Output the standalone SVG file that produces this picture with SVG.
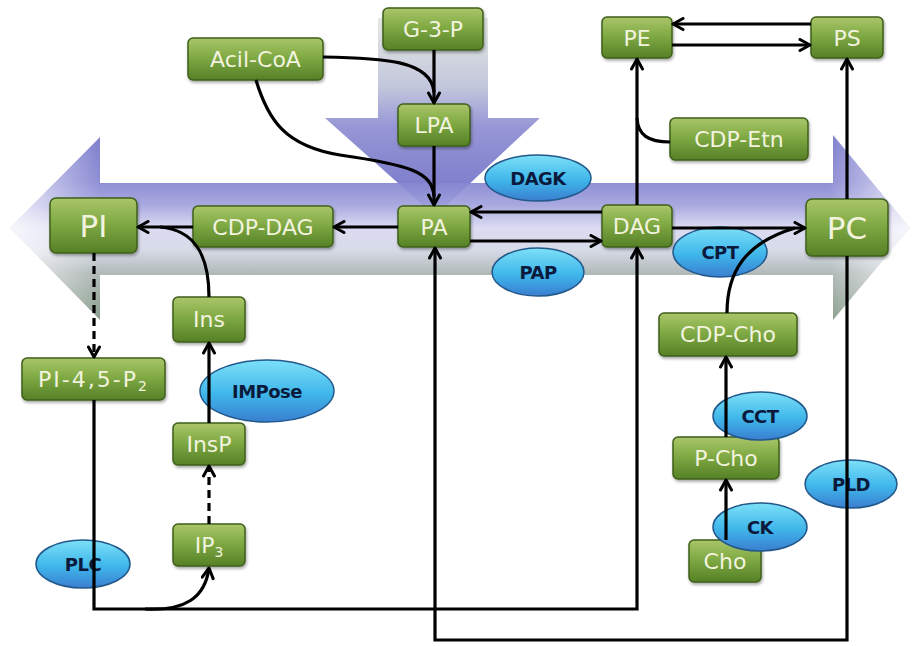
<svg xmlns="http://www.w3.org/2000/svg" width="913" height="646" viewBox="0 0 913 646">
  <defs>
    <linearGradient id="bandH" x1="0" y1="135" x2="0" y2="320" gradientUnits="userSpaceOnUse">
      <stop offset="0" stop-color="#7272c8"/>
      <stop offset="0.26" stop-color="#8686d2"/>
      <stop offset="0.38" stop-color="#a2a2de"/>
      <stop offset="0.5" stop-color="#d8d8f1"/>
      <stop offset="0.62" stop-color="#d4d8e6"/>
      <stop offset="0.75" stop-color="#a9b3b1"/>
      <stop offset="1" stop-color="#7f9681"/>
    </linearGradient>
    <linearGradient id="tipFade" x1="10" y1="0" x2="910" y2="0" gradientUnits="userSpaceOnUse">
      <stop offset="0" stop-color="#ffffff" stop-opacity="0.75"/>
      <stop offset="0.1" stop-color="#ffffff" stop-opacity="0"/>
      <stop offset="0.91" stop-color="#ffffff" stop-opacity="0"/>
      <stop offset="1" stop-color="#ffffff" stop-opacity="0.75"/>
    </linearGradient>
    <linearGradient id="bandV" x1="0" y1="18" x2="0" y2="216" gradientUnits="userSpaceOnUse">
      <stop offset="0" stop-color="#e6eae4"/>
      <stop offset="0.35" stop-color="#c2c6dc"/>
      <stop offset="0.55" stop-color="#9696d6"/>
      <stop offset="1" stop-color="#7272c6"/>
    </linearGradient>
    <linearGradient id="nodeFill" x1="0" y1="0" x2="0" y2="1">
      <stop offset="0" stop-color="#aac66a"/>
      <stop offset="0.45" stop-color="#80aa44"/>
      <stop offset="1" stop-color="#558026"/>
    </linearGradient>
    <linearGradient id="enzFill" x1="0" y1="0" x2="0" y2="1">
      <stop offset="0" stop-color="#7ce0f8"/>
      <stop offset="0.55" stop-color="#3fb6ea"/>
      <stop offset="1" stop-color="#3a7ed0"/>
    </linearGradient>
    <filter id="shadow" x="-10%" y="-10%" width="130%" height="140%">
      <feDropShadow dx="1" dy="2" stdDeviation="1.5" flood-color="#000" flood-opacity="0.35"/>
    </filter>
    <marker id="arr" viewBox="0 0 14 14" refX="12" refY="7" markerWidth="14" markerHeight="14" markerUnits="userSpaceOnUse" orient="auto">
      <path d="M2,1.5 L12,7 L2,12.5" fill="none" stroke="#000" stroke-width="3" stroke-linecap="round" stroke-linejoin="round"/>
    </marker>
    <style>
      .node rect { fill: url(#nodeFill); stroke: #3f5f1a; stroke-width: 1.5; filter: url(#shadow); }
      .node text { font-family: "DejaVu Sans", "Liberation Sans", sans-serif; font-size: 22px; fill: #f2f3df; text-anchor: middle; }
      .node text.big { font-size: 31px; }
      .node text.wide { letter-spacing: 2px; }
      .enz ellipse { fill: url(#enzFill); stroke: #22588a; stroke-width: 1.5; }
      .enz text { font-family: "DejaVu Sans", "Liberation Sans", sans-serif; font-size: 18px; font-weight: bold; letter-spacing: -0.5px; fill: #0b1a3c; text-anchor: middle; }
      .conn path { fill: none; stroke: #000; stroke-width: 3.2; }
      .conn path.dash { stroke-dasharray: 8 5; }
      .conn path.to { marker-end: url(#arr); }
    </style>
  </defs>

  <rect width="913" height="646" fill="#ffffff"/>

  <!-- broad background flow arrows -->
  <g id="flow-vertical">
    <path d="M378,18 L488,18 L488,118 L540,118 L435,216 L325,118 L378,118 Z" fill="url(#bandV)"/>
  </g>
  <g id="flow-horizontal">
    <path d="M10,228 L100,137 L100,183 L833,183 L833,135 L910,228 L833,320 L833,275 L100,275 L100,320 Z" fill="url(#bandH)" opacity="0.92"/>
    <path d="M10,228 L100,137 L100,183 L833,183 L833,135 L910,228 L833,320 L833,275 L100,275 L100,320 Z" fill="url(#tipFade)"/>
  </g>

  <!-- metabolites -->
  <g id="g3p" class="node"><rect x="383" y="8" width="100" height="42" rx="5"/><text x="433" y="37">G-3-P</text></g>
  <g id="acilcoa" class="node"><rect x="188" y="38" width="135" height="42" rx="5"/><text x="255.5" y="67">Acil-CoA</text></g>
  <g id="lpa" class="node"><rect x="398" y="104" width="72" height="42" rx="5"/><text x="434" y="133">LPA</text></g>
  <g id="pa" class="node"><rect x="398" y="206" width="72" height="41" rx="5"/><text x="434" y="234.5">PA</text></g>
  <g id="cdpdag" class="node"><rect x="193" y="206" width="140" height="41" rx="5"/><text x="263" y="234.5">CDP-DAG</text></g>
  <g id="pi" class="node"><rect x="50" y="198" width="87" height="55" rx="6"/><text class="big" x="93.5" y="236.5">PI</text></g>
  <g id="dag" class="node"><rect x="602" y="205" width="70" height="42" rx="5"/><text x="637" y="234">DAG</text></g>
  <g id="pc" class="node"><rect x="806" y="199" width="82" height="57" rx="6"/><text class="big" x="847" y="238.5">PC</text></g>
  <g id="pe" class="node"><rect x="602" y="17" width="70" height="41" rx="5"/><text x="637" y="45.5">PE</text></g>
  <g id="ps" class="node"><rect x="811" y="17" width="72" height="41" rx="5"/><text x="847" y="45.5">PS</text></g>
  <g id="cdpetn" class="node"><rect x="670" y="118" width="138" height="42" rx="5"/><text x="739" y="147">CDP-Etn</text></g>
  <g id="cdpcho" class="node"><rect x="659" y="313" width="138" height="43" rx="5"/><text x="728" y="342">CDP-Cho</text></g>
  <g id="pcho" class="node"><rect x="673" y="437" width="106" height="42" rx="5"/><text x="726" y="466">P-Cho</text></g>
  <g id="cho" class="node"><rect x="689" y="540" width="72" height="42" rx="5"/><text x="725" y="569">Cho</text></g>
  <g id="ins" class="node"><rect x="173" y="297" width="72" height="45" rx="5"/><text x="209" y="327">Ins</text></g>
  <g id="pi45p2" class="node"><rect x="22" y="358" width="143" height="42" rx="5"/><text class="wide" x="93.5" y="387">PI-4,5-P<tspan font-size="14" dy="4">2</tspan></text></g>
  <g id="insp" class="node"><rect x="173" y="423" width="72" height="42" rx="5"/><text x="209" y="452">InsP</text></g>
  <g id="ip3" class="node"><rect x="173" y="524" width="72" height="42" rx="5"/><text x="209" y="553">IP<tspan font-size="14" dy="4">3</tspan></text></g>

  <!-- enzymes -->
  <g id="dagk" class="enz"><ellipse cx="538" cy="178" rx="53" ry="23"/><text x="538" y="184.5">DAGK</text></g>
  <g id="pap" class="enz"><ellipse cx="538" cy="272" rx="46" ry="24"/><text x="538" y="278.5">PAP</text></g>
  <g id="cpt" class="enz"><ellipse cx="720" cy="252" rx="47" ry="25"/><text x="720" y="258.5">CPT</text></g>
  <g id="impose" class="enz"><ellipse cx="267" cy="391" rx="67" ry="31"/><text x="267" y="397.5">IMPose</text></g>
  <g id="plc" class="enz"><ellipse cx="83" cy="564" rx="47" ry="24"/><text x="83" y="570.5">PLC</text></g>
  <g id="cct" class="enz"><ellipse cx="760" cy="416" rx="47" ry="24"/><text x="760" y="422.5">CCT</text></g>
  <g id="ck" class="enz"><ellipse cx="760" cy="527" rx="47" ry="24"/><text x="760" y="533.5">CK</text></g>
  <g id="pld" class="enz"><ellipse cx="851" cy="484" rx="46" ry="24"/><text x="851" y="490.5">PLD</text></g>

  <!-- reactions -->
  <g id="connectors" class="conn">
    <path class="to" d="M434,50 L434,103"/>
    <path d="M323,57 C382,58 431,60 434,92"/>
    <path d="M256,80 C268,120 285,146 340,155 C410,165 432,172 434,196"/>
    <path class="to" d="M434,146 L434,205"/>
    <path class="to" d="M398,227 L334,227"/>
    <path class="to" d="M193,227 L138,227"/>
    <path d="M209,297 C209,255 195,230 160,227"/>
    <path class="to" d="M602,212 L471,212"/>
    <path class="to" d="M470,241 L601,241"/>
    <path class="to" d="M637,205 L637,59"/>
    <path d="M670,142 C648,142 638,135 637,118"/>
    <path class="to" d="M672,45 L810,45"/>
    <path class="to" d="M811,24 L673,24"/>
    <path class="to" d="M672,228 L805,228"/>
    <path d="M727,313 C727,272 745,243 795,228"/>
    <path class="to" d="M847,199 L847,59"/>
    <path class="to" d="M847,256 L847,640 L435,640 L435,248"/>
    <path class="to" d="M94,400 L94,609 L637,609 L637,248"/>
    <path class="to" d="M145,609 C185,611 205,598 209,568"/>
    <path class="to dash" d="M94,253 L94,357"/>
    <path class="to dash" d="M209,524 L209,466"/>
    <path class="to" d="M209,423 L209,343"/>
    <path class="to" d="M726,437 L726,357"/>
    <path class="to" d="M726,540 L726,480"/>
  </g>
</svg>
